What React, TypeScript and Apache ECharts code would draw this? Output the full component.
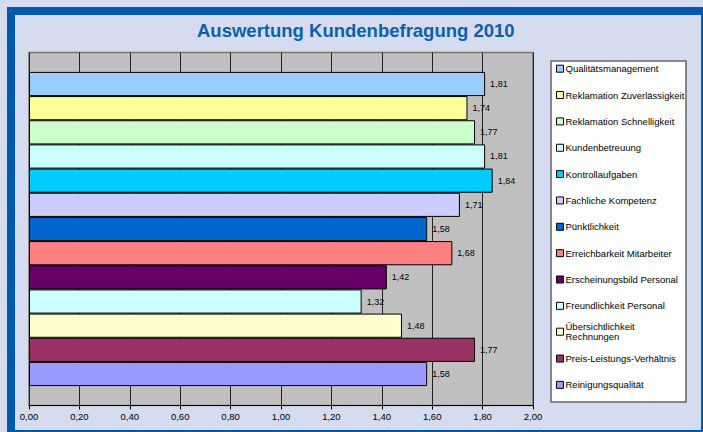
import React, { useEffect, useRef } from "react";
import * as echarts from "echarts";

const titleText = "Auswertung Kundenbefragung 2010";
const seriesNames = [
  "Qualitätsmanagement",
  "Reklamation Zuverlässigkeit",
  "Reklamation Schnelligkeit",
  "Kundenbetreuung",
  "Kontrollaufgaben",
  "Fachliche Kompetenz",
  "Pünktlichkeit",
  "Erreichbarkeit Mitarbeiter",
  "Erscheinungsbild Personal",
  "Freundlichkeit Personal",
  "Übersichtlichkeit\nRechnungen",
  "Preis-Leistungs-Verhältnis",
  "Reinigungsqualität",
];
const seriesValues = [1.81, 1.74, 1.77, 1.81, 1.84, 1.71, 1.58, 1.68, 1.42, 1.32, 1.48, 1.77, 1.58];
const seriesColors = [
  "#99CCFF", "#FFFF99", "#CCFFCC", "#CCFFFF", "#00CCFF", "#CCCCFF", "#0066CC",
  "#FF8080", "#660066", "#CCFFFF", "#FFFFCC", "#993366", "#9999FF",
];
const axisMin = 0;
const axisMax = 2;
const axisStep = 0.2;

const fmt = (v: number) => v.toFixed(2).replace(".", ",");

export default function App() {
  const ref = useRef<HTMLDivElement>(null);
  useEffect(() => {
    document.body.style.margin = "0";
    if (!ref.current) return;
    const chart = echarts.init(ref.current, undefined, { renderer: "svg" });
    const font = "'Liberation Sans', Arial, sans-serif";

    const series = seriesNames.map((name, i) => ({
      type: "bar",
      name,
      data: [seriesValues[i]],
      barGap: "0%",
      barCategoryGap: "11%",
      itemStyle: { color: seriesColors[i], borderColor: "#000", borderWidth: 1 },
      label: {
        show: true,
        position: "right",
        distance: 5,
        formatter: (p: any) => fmt(p.value),
        fontSize: 9,
        fontFamily: font,
        color: "#000",
      },
    }));

    const legends = seriesNames.map((name, i) => {
      const c = 67.7 + 26.35 * i;
      const twoLine = name.indexOf("\n") >= 0;
      return {
        data: [name],
        left: 556,
        top: twoLine ? c - 1.5 - 13 : c - 4.5,
        padding: 0,
        orient: "vertical",
        icon: "rect",
        itemWidth: 7,
        itemHeight: 7,
        selectedMode: false,
        itemStyle: { borderColor: "#000", borderWidth: 1 },
        textStyle: {
          fontSize: 9.5,
          fontFamily: font,
          color: "#000",
          lineHeight: twoLine ? 10 : 11,
          padding: twoLine ? [10, 0, 0, -3] : [0, 0, 0, -3],
        },
      };
    });

    chart.setOption({
      animation: false,
      backgroundColor: "#D6DCEF",
      title: {
        text: titleText,
        left: 197,
        top: 20.5,
        padding: 0,
        textStyle: { fontSize: 18.5, fontWeight: "bold", color: "#0B5FB0", fontFamily: font },
      },
      grid: {
        left: 29,
        top: 52.5,
        right: 170,
        bottom: 26.5,
        show: true,
        backgroundColor: "#C0C0C0",
        borderColor: "#777",
        borderWidth: 1.5,
      },
      xAxis: {
        type: "value",
        min: axisMin,
        max: axisMax,
        interval: axisStep,
        axisLine: { show: true, lineStyle: { color: "#000", width: 1 } },
        axisTick: { show: true, length: 4, lineStyle: { color: "#000" } },
        splitLine: { show: true, lineStyle: { color: "#222", width: 1 } },
        axisLabel: { formatter: (v: number) => fmt(v), fontSize: 9.5, fontFamily: font, color: "#000", margin: 6 },
      },
      yAxis: {
        type: "category",
        data: [""],
        axisLine: { show: false },
        axisTick: { show: false },
        axisLabel: { show: false },
      },
      legend: legends,
      graphic: [
        {
          type: "rect",
          z: 0,
          shape: { x: 11, y: 11, width: 694, height: 423 },
          style: { fill: "none", stroke: "#0059AB", lineWidth: 8 },
        },
        {
          type: "rect",
          z: 0,
          shape: { x: 551, y: 61, width: 135, height: 341 },
          style: { fill: "#FFFFFF", stroke: "#666", lineWidth: 1.5 },
        },
      ],
      series,
    });
    return () => chart.dispose();
  }, []);
  return <div ref={ref} style={{ width: 703, height: 432 }} />;
}
